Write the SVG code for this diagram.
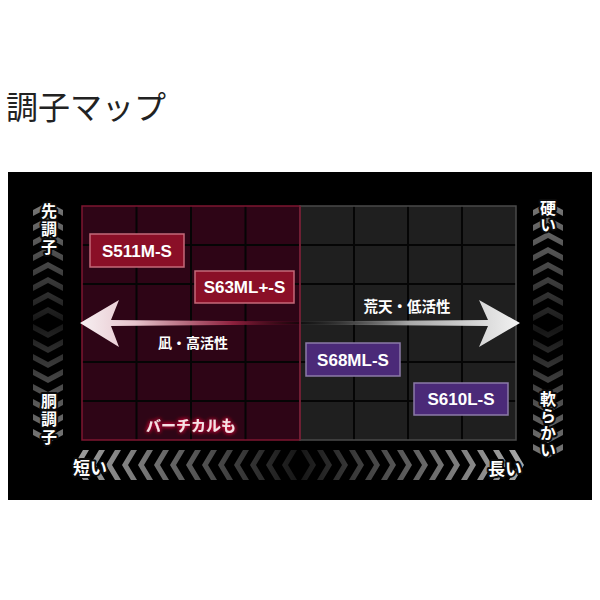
<svg xmlns="http://www.w3.org/2000/svg" width="600" height="600" viewBox="0 0 600 600">
<style>
.title{font-family:"Noto Sans CJK JP","Noto Sans CJK SC",sans-serif;font-size:32px;font-weight:normal;fill:#222}
.model{font-family:"Liberation Sans",Arial,sans-serif;font-size:17px;font-weight:bold;fill:#fff;text-anchor:middle;dominant-baseline:central}
.jp{font-family:"Noto Sans CJK JP",sans-serif;font-weight:bold;fill:#fff;text-anchor:middle;dominant-baseline:central}
.side{font-family:"Noto Sans CJK JP",sans-serif;font-weight:bold;font-size:16px;fill:#fff;text-anchor:middle;stroke:#0a0a0a;stroke-width:4px;paint-order:stroke;stroke-linejoin:round}
.vert{writing-mode:vertical-rl;text-orientation:upright}
.redbox{fill:#8a0f27;stroke:#c46a7a;stroke-width:1.5}
.purbox{fill:#4b2a78;stroke:#8c7ba8;stroke-width:1.5}
.grid{stroke:#050505;stroke-width:2;fill:none}
</style>
<defs>
<linearGradient id="gH" gradientUnits="userSpaceOnUse" x1="74" y1="0" x2="524" y2="0">
<stop offset="0" stop-color="#a0a0a0"/><stop offset="0.5" stop-color="#161616"/><stop offset="1" stop-color="#a8a8a8"/>
</linearGradient>
<linearGradient id="gVL" gradientUnits="userSpaceOnUse" x1="0" y1="200" x2="0" y2="445">
<stop offset="0" stop-color="#7a7a7a"/><stop offset="0.5" stop-color="#161616"/><stop offset="1" stop-color="#7a7a7a"/>
</linearGradient>
<linearGradient id="gVR" gradientUnits="userSpaceOnUse" x1="0" y1="200" x2="0" y2="460">
<stop offset="0" stop-color="#7a7a7a"/><stop offset="0.5" stop-color="#161616"/><stop offset="1" stop-color="#7a7a7a"/>
</linearGradient>
<linearGradient id="gArrL" gradientUnits="userSpaceOnUse" x1="80" y1="0" x2="300" y2="0">
<stop offset="0" stop-color="#f7f0f2"/><stop offset="0.25" stop-color="#e6c4cc"/><stop offset="0.7" stop-color="#9a2242" stop-opacity="0.9"/><stop offset="1" stop-color="#6a0a25" stop-opacity="0.2"/>
</linearGradient>
<linearGradient id="gArrR" gradientUnits="userSpaceOnUse" x1="300" y1="0" x2="520" y2="0">
<stop offset="0" stop-color="#444" stop-opacity="0.2"/><stop offset="0.5" stop-color="#a8a8a8"/><stop offset="1" stop-color="#f2f2f2"/>
</linearGradient>
<filter id="glow" x="-20%" y="-50%" width="140%" height="200%">
<feGaussianBlur in="SourceAlpha" stdDeviation="2.2" result="b"/>
<feFlood flood-color="#e0103c"/>
<feComposite in2="b" operator="in" result="g"/>
<feMerge><feMergeNode in="g"/><feMergeNode in="g"/><feMergeNode in="SourceGraphic"/></feMerge>
</filter>
</defs>

<rect width="600" height="600" fill="#fff"/>
<text class="title" x="6" y="119">調子マップ</text>

<rect x="8" y="172" width="584" height="328" fill="#000"/>

<g id="grid-left">
<rect x="82" y="206" width="218" height="234" fill="#2e0516"/>
<path class="grid" d="M136.5,206V440M191,206V440M245.5,206V440M82,245H300M82,284H300M82,323H300M82,362H300M82,401H300"/>
<rect x="82" y="206" width="218" height="234" fill="none" stroke="#7e1630" stroke-width="1.5"/>
</g>
<g id="grid-right">
<rect x="300" y="206" width="216" height="234" fill="#1f1f1f"/>
<path class="grid" d="M354,206V440M408,206V440M462,206V440M300,245H516M300,284H516M300,323H516M300,362H516M300,401H516"/>
<rect x="300" y="206" width="216" height="234" fill="none" stroke="#4a4a4a" stroke-width="1.5"/>
<line x1="300" y1="206" x2="300" y2="440" stroke="#7e1630" stroke-width="1.5"/>
</g>

<g id="connectors">
<path d="M80,323 L119,300 L111,320 L300,321.5 L300,324.5 L111,326 L119,347 Z" fill="url(#gArrL)"/>
<path d="M520,323 L479,300 L488,320 L300,321.5 L300,324.5 L488,326 L479,347 Z" fill="url(#gArrR)"/>
</g>

<g id="label-calm"><text class="jp" x="193" y="342" font-size="14">凪・高活性</text></g>
<g id="label-storm"><text class="jp" x="407" y="305" font-size="14.5">荒天・低活性</text></g>
<g id="label-vertical"><text class="jp" x="191" y="424" font-size="15" filter="url(#glow)" style="fill:#f8e0e6">バーチカルも</text></g>

<g id="node-S511M-S"><rect class="redbox" x="90" y="234" width="94" height="33"/><text class="model" x="137" y="251">S511M-S</text></g>
<g id="node-S63ML-S"><rect class="redbox" x="195" y="271" width="99" height="32"/><text class="model" x="244.5" y="287.5">S63ML+-S</text></g>
<g id="node-S68ML-S"><rect class="purbox" x="306" y="343" width="94" height="33"/><text class="model" x="353" y="360">S68ML-S</text></g>
<g id="node-S610L-S"><rect class="purbox" x="414" y="383" width="94" height="32"/><text class="model" x="461" y="399.5">S610L-S</text></g>

<g id="axis-bottom">
<path fill="url(#gH)" d="M282,465 291,450 297,450 288,465 297,480 291,480Z M266,465 275,450 281,450 272,465 281,480 275,480Z M250,465 259,450 265,450 256,465 265,480 259,480Z M234,465 243,450 249,450 240,465 249,480 243,480Z M218,465 227,450 233,450 224,465 233,480 227,480Z M202,465 211,450 217,450 208,465 217,480 211,480Z M186,465 195,450 201,450 192,465 201,480 195,480Z M170,465 179,450 185,450 176,465 185,480 179,480Z M154,465 163,450 169,450 160,465 169,480 163,480Z M138,465 147,450 153,450 144,465 153,480 147,480Z M122,465 131,450 137,450 128,465 137,480 131,480Z M106,465 115,450 121,450 112,465 121,480 115,480Z M90,465 99,450 105,450 96,465 105,480 99,480Z M74,465 83,450 89,450 80,465 89,480 83,480Z
M316,465 307,450 301,450 310,465 301,480 307,480Z M332,465 323,450 317,450 326,465 317,480 323,480Z M348,465 339,450 333,450 342,465 333,480 339,480Z M364,465 355,450 349,450 358,465 349,480 355,480Z M380,465 371,450 365,450 374,465 365,480 371,480Z M396,465 387,450 381,450 390,465 381,480 387,480Z M412,465 403,450 397,450 406,465 397,480 403,480Z M428,465 419,450 413,450 422,465 413,480 419,480Z M444,465 435,450 429,450 438,465 429,480 435,480Z M460,465 451,450 445,450 454,465 445,480 451,480Z M476,465 467,450 461,450 470,465 461,480 467,480Z M492,465 483,450 477,450 486,465 477,480 483,480Z M508,465 499,450 493,450 502,465 493,480 499,480Z M524,465 515,450 509,450 518,465 509,480 515,480Z"/>
<text class="side" x="90" y="466" dominant-baseline="central" style="font-size:17px">短い</text>
<text class="side" x="505" y="467" dominant-baseline="central" style="font-size:17px">長い</text>
</g>

<g id="axis-left">
<path fill="url(#gVL)" d="M48,307 63,315 63,321 48,313 33,321 33,315Z M48,292 63,300 63,306 48,298 33,306 33,300Z M48,277 63,285 63,291 48,283 33,291 33,285Z M48,262 63,270 63,276 48,268 33,276 33,270Z M48,247 63,255 63,261 48,253 33,261 33,255Z M48,232 63,240 63,246 48,238 33,246 33,240Z M48,217 63,225 63,231 48,223 33,231 33,225Z M48,202 63,210 63,216 48,208 33,216 33,210Z
M48,338 63,330 63,324 48,332 33,324 33,330Z M48,353 63,345 63,339 48,347 33,339 33,345Z M48,368 63,360 63,354 48,362 33,354 33,360Z M48,383 63,375 63,369 48,377 33,369 33,375Z M48,398 63,390 63,384 48,392 33,384 33,390Z M48,413 63,405 63,399 48,407 33,399 33,405Z M48,428 63,420 63,414 48,422 33,414 33,420Z M48,443 63,435 63,429 48,437 33,429 33,435Z"/>
<text class="side vert" x="49" y="230" letter-spacing="2">先調子</text>
<text class="side vert" x="49" y="420" letter-spacing="2">胴調子</text>
</g>

<g id="axis-right">
<path fill="url(#gVR)" d="M548,307 563,315 563,321 548,313 533,321 533,315Z M548,292 563,300 563,306 548,298 533,306 533,300Z M548,277 563,285 563,291 548,283 533,291 533,285Z M548,262 563,270 563,276 548,268 533,276 533,270Z M548,247 563,255 563,261 548,253 533,261 533,255Z M548,232 563,240 563,246 548,238 533,246 533,240Z M548,217 563,225 563,231 548,223 533,231 533,225Z M548,202 563,210 563,216 548,208 533,216 533,210Z
M548,338 563,330 563,324 548,332 533,324 533,330Z M548,353 563,345 563,339 548,347 533,339 533,345Z M548,368 563,360 563,354 548,362 533,354 533,360Z M548,383 563,375 563,369 548,377 533,369 533,375Z M548,398 563,390 563,384 548,392 533,384 533,390Z M548,413 563,405 563,399 548,407 533,399 533,405Z M548,428 563,420 563,414 548,422 533,414 533,420Z M548,443 563,435 563,429 548,437 533,429 533,435Z M548,458 563,450 563,444 548,452 533,444 533,450Z"/>
<text class="side vert" x="548" y="216.5" letter-spacing="1">硬い</text>
<text class="side vert" x="548" y="425" letter-spacing="1">軟らかい</text>
</g>
</svg>
